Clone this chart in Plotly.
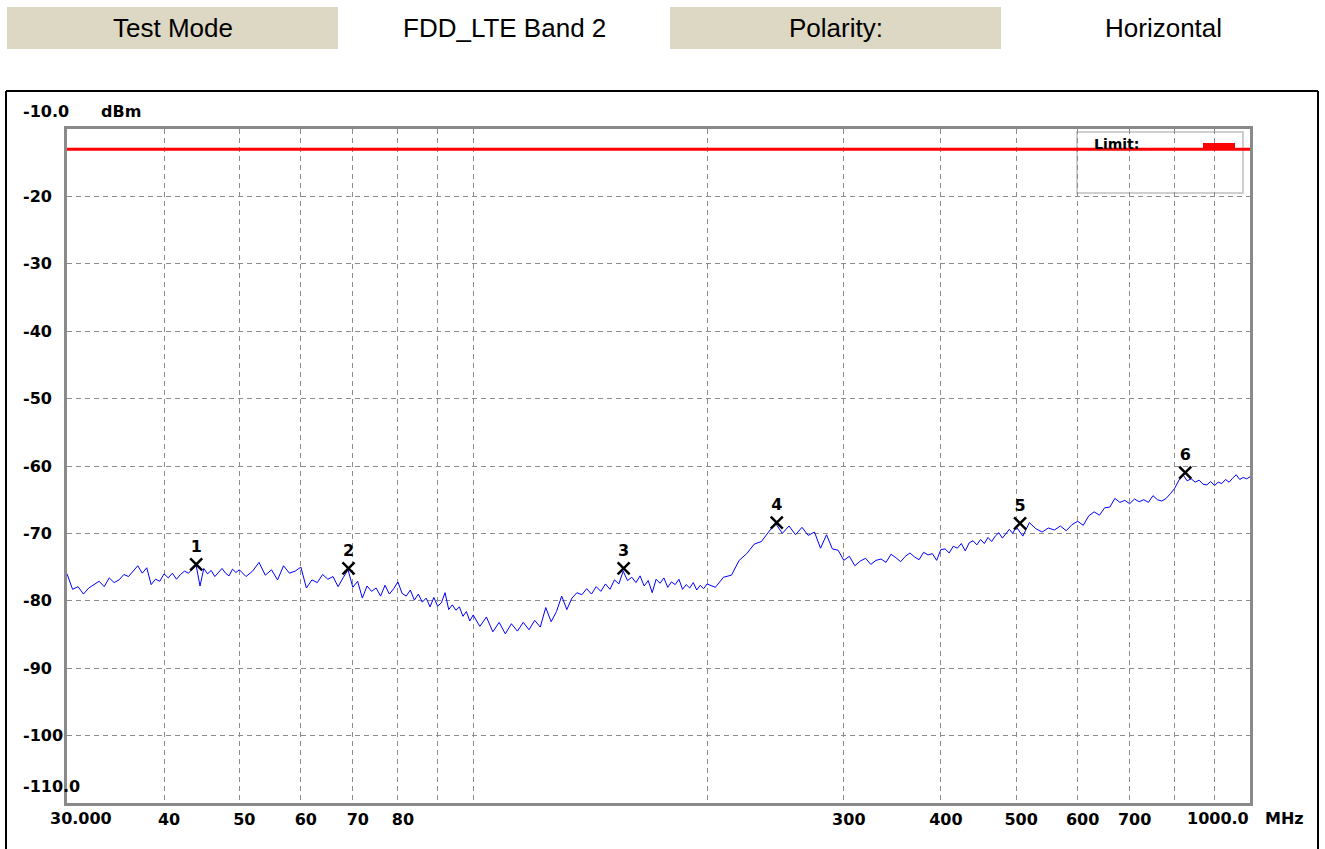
import plotly.graph_objects as go
import math

# ---------------- data ----------------
freq_mhz = [
    30.0, 30.5, 31.0, 31.5, 32.0, 32.5, 33.0, 33.5, 34.0, 34.5, 35.0, 35.5, 36.0, 36.5, 37.0, 37.5,
    38.0, 38.5, 39.0, 39.5, 40.0, 40.5, 41.0, 41.5, 42.0, 42.5, 43.0, 43.5, 44.0, 44.5, 45.0, 45.5,
    46.0, 46.5, 47.0, 47.5, 48.0, 48.5, 49.0, 49.5, 50.0,
    51, 52, 53, 54, 55, 56, 57, 58, 59, 60, 61, 62, 63, 64, 65, 66, 67, 68, 69, 70,
    71, 72, 73, 74, 75, 76, 77, 78, 79, 80, 81, 82, 83, 84, 85, 86, 87, 88, 89, 90,
    91, 92, 93, 94, 95, 96, 97, 98, 99, 100,
    102, 104, 106, 108, 110, 112, 114, 116, 118, 120, 122, 124, 126, 128, 130, 132, 134, 136, 138, 140,
    142, 144, 146, 148, 150, 152, 154, 156, 158, 160, 162, 164, 166, 168, 170, 172, 174, 176, 178, 180,
    182, 184, 186, 188, 190, 192, 194, 196, 198, 200,
    205, 210, 215, 220, 225, 230, 235, 240, 245, 250, 255, 260, 265, 270, 275, 280, 285, 290, 295, 300,
    305, 310, 315, 320, 325, 330, 335, 340, 345, 350, 355, 360, 365, 370, 375, 380, 385, 390, 395, 400,
    405, 410, 415, 420, 425, 430, 435, 440, 445, 450, 455, 460, 465, 470, 475, 480, 485, 490, 495, 500,
    510, 520, 530, 540, 550, 560, 570, 580, 590, 600, 610, 620, 630, 640, 650, 660, 670, 680, 690, 700,
    710, 720, 730, 740, 750, 760, 770, 780, 790, 800, 810, 820, 830, 840, 850, 860, 870, 880, 890, 900,
    910, 920, 930, 940, 950, 960, 970, 980, 990, 1000,
]
level_dbm = [
    -76.0, -78.3, -77.9, -79.0, -78.1, -77.6, -77.1, -77.9, -76.6, -77.3, -76.9, -76.1, -76.4, -75.6, -74.8, -75.9,
    -75.1, -77.6, -76.8, -77.1, -76.0, -76.6, -75.9, -76.8, -76.1, -75.6, -75.9, -75.3, -74.8, -77.8, -75.2, -76.0,
    -75.5, -76.4, -75.8, -75.2, -75.9, -76.3, -75.3, -75.8, -75.4,
    -76.4, -75.6, -74.3, -76.2, -75.4, -76.9, -74.8, -75.9, -75.6, -75.0, -78.1, -76.9, -77.3, -76.1, -76.8, -76.4, -77.9, -76.6, -75.4, -78.0,
    -77.1, -79.6, -77.8, -78.6, -78.1, -79.3, -77.7, -79.0, -78.2, -77.2, -78.9, -79.3, -78.4, -79.9, -79.0, -80.2, -79.6, -80.9, -79.5, -80.8,
    -80.3, -78.8, -81.3, -80.6, -81.4, -80.9, -82.3, -81.6, -83.0, -82.1,
    -83.8, -82.4, -84.6, -83.2, -84.9, -83.4, -84.5, -83.2, -84.3, -82.9, -83.9, -81.0, -83.1, -81.6, -79.3, -81.3, -79.6, -78.8, -79.1, -78.2,
    -79.0, -77.9, -78.6, -77.5, -78.3, -76.9, -77.5, -75.6, -77.0, -76.5, -77.3, -76.3, -77.8, -77.0, -78.8, -76.8, -77.4, -76.6, -78.0, -77.2,
    -77.6, -76.8, -78.3, -77.6, -78.1, -77.3, -78.4, -77.7, -78.2, -77.5,
    -78.0, -76.5, -76.2, -74.0, -73.0, -71.6, -71.2, -69.8, -68.5, -70.0, -68.9, -70.2, -69.1, -70.3, -69.8, -72.2, -70.2, -72.3, -72.5, -74.0,
    -73.4, -74.8, -74.1, -73.7, -74.6, -74.0, -73.8, -74.3, -73.1, -73.6, -74.2, -73.4, -72.9, -73.5, -73.9, -72.8, -73.2, -73.0, -74.0, -72.4,
    -72.3, -72.9, -71.9, -72.2, -71.5, -72.6, -71.4, -71.1, -71.7, -70.9, -71.5, -70.6, -71.2, -70.4, -69.9, -70.7, -70.1, -69.4, -70.0, -69.0,
    -70.4, -68.4, -69.3, -69.8, -69.2, -69.5, -68.9, -69.6, -68.7, -68.2, -68.8, -67.4, -66.8, -67.3, -66.2, -66.1, -64.8, -65.4, -65.1, -65.6,
    -64.9, -65.3, -65.0, -65.4, -64.4, -65.0, -65.2, -64.8, -64.1, -63.3, -62.1, -61.3, -62.2, -61.9, -62.4, -62.1, -62.7, -62.8, -62.3, -62.9,
    -62.4, -62.6, -62.0, -62.4, -61.8, -61.3, -62.0, -61.7, -61.9, -61.6,
]
marker_freq = [44.0, 69.1, 156.2, 245.9, 505.8, 825.3]
marker_level = [-74.6, -75.2, -75.2, -68.4, -68.5, -61.0]
marker_label = ["1", "2", "3", "4", "5", "6"]
limit_dbm = -13.0
x_range_mhz = [30, 1000]
y_range_dbm = [-110, -10]
x_grid_vals = [40, 50, 60, 70, 80, 90, 100, 200, 300, 400, 500, 600, 700, 800, 900]
x_tick_text = ["40", "50", "60", "70", "80", "", "", "", "300", "400", "500", "600", "700", "", ""]
y_grid_vals = [-20, -30, -40, -50, -60, -70, -80, -90, -100]
header_cells = ["Test Mode", "FDD_LTE Band 2", "Polarity:", "Horizontal"]

# ---------------- layout helpers ----------------
W, H = 1325, 849
PL, PR, PT, PB = 67, 1250, 129, 803          # plot area in page pixels
ML, MR, MT, MB = PL, W - PR, PT, H - PB
PW, PH = PR - PL, PB - PT


def px(x):
    return (x - PL) / PW


def py(y):
    return (PB - y) / PH


AX_FONT = dict(family="DejaVu Sans", size=16, color="black", weight="bold")
GRID = "#8c8c8c"
FRAME = "#8a8a8a"

fig = go.Figure()

fig.add_trace(go.Scatter(
    x=freq_mhz, y=level_dbm, mode="lines",
    line=dict(color="#0000ff", width=1), showlegend=False, hoverinfo="x+y"))

fig.add_trace(go.Scatter(
    x=x_range_mhz, y=[limit_dbm, limit_dbm], mode="lines",
    line=dict(color="#ff0000", width=3), showlegend=False))

fig.add_trace(go.Scatter(
    x=marker_freq, y=marker_level, mode="markers+text",
    marker=dict(symbol="x-thin", size=12, line=dict(color="black", width=2.5), color="black"),
    text=marker_label, textposition="top center",
    textfont=dict(family="DejaVu Sans", size=16, color="black", weight="bold"),
    showlegend=False))

shapes = []
annotations = []

# header cells
cell_edges = [7, 338, 670, 1001, 1325]
for i, txt in enumerate(header_cells):
    x0, x1 = cell_edges[i], cell_edges[i + 1]
    if i % 2 == 0:
        shapes.append(dict(type="rect", xref="paper", yref="paper",
                           x0=px(x0), x1=px(x1), y0=py(49), y1=py(7),
                           fillcolor="#ddd8c3", line=dict(width=0), layer="below"))
    annotations.append(dict(xref="paper", yref="paper", x=px((x0 + x1) / 2), y=py(28),
                            text=txt, showarrow=False, xanchor="center", yanchor="middle",
                            font=dict(family="Liberation Sans, Arial", size=26, color="black")))

# outer black frame (drawn as separate lines)
for (xa, ya, xb, yb) in [(6, 91, 1318, 91), (6, 91, 6, 860), (1318, 91, 1318, 860)]:
    shapes.append(dict(type="line", xref="paper", yref="paper",
                       x0=px(xa), y0=py(ya), x1=px(xb), y1=py(yb),
                       line=dict(color="black", width=2)))

# legend box
shapes.append(dict(type="rect", xref="paper", yref="paper",
                   x0=px(1077), x1=px(1243), y0=py(193), y1=py(132),
                   line=dict(color="#cfcfcf", width=2), fillcolor="white", layer="below"))
shapes.append(dict(type="rect", xref="paper", yref="paper",
                   x0=px(1203), x1=px(1235), y0=py(148), y1=py(143),
                   line=dict(width=0), fillcolor="#ff0000"))
annotations.append(dict(xref="paper", yref="paper", x=px(1092), y=py(144),
                        text="Limit:", showarrow=False, xanchor="left", yanchor="middle",
                        font=dict(family="DejaVu Sans", size=14, color="black", weight="bold")))

# y labels (left aligned as in original)
for v in y_grid_vals:
    annotations.append(dict(xref="paper", yref="y", x=px(21), y=v, text=str(v),
                            showarrow=False, xanchor="left", yanchor="middle", font=AX_FONT))
annotations.append(dict(xref="paper", yref="y", x=px(21), y=y_range_dbm[1], yshift=18,
                        text="%.1f" % y_range_dbm[1], showarrow=False,
                        xanchor="left", yanchor="middle", font=AX_FONT))
annotations.append(dict(xref="paper", yref="y", x=px(99), y=y_range_dbm[1], yshift=18,
                        text="dBm", showarrow=False, xanchor="left", yanchor="middle", font=AX_FONT))
annotations.append(dict(xref="paper", yref="y", x=px(21), y=y_range_dbm[0], yshift=17,
                        text="%.1f" % y_range_dbm[0], showarrow=False,
                        xanchor="left", yanchor="middle", font=AX_FONT))

# x end labels
annotations.append(dict(xref="x", yref="paper", x=math.log10(x_range_mhz[0]), y=0, yshift=-15,
                        xshift=-19, text="%.3f" % x_range_mhz[0], showarrow=False,
                        xanchor="left", yanchor="middle", font=AX_FONT))
annotations.append(dict(xref="x", yref="paper", x=math.log10(x_range_mhz[1]), y=0, yshift=-15,
                        xshift=1, text="%.1f" % x_range_mhz[1], showarrow=False,
                        xanchor="right", yanchor="middle", font=AX_FONT))
annotations.append(dict(xref="x", yref="paper", x=math.log10(x_range_mhz[1]), y=0, yshift=-15,
                        xshift=13, text="MHz", showarrow=False,
                        xanchor="left", yanchor="middle", font=AX_FONT))

fig.update_layout(
    width=W, height=H,
    margin=dict(l=ML, r=MR, t=MT, b=MB, pad=0),
    paper_bgcolor="white", plot_bgcolor="white",
    shapes=shapes, annotations=annotations,
    showlegend=False,
)
fig.update_xaxes(
    type="log", range=[math.log10(x_range_mhz[0]), math.log10(x_range_mhz[1])],
    tickmode="array", tickvals=x_grid_vals, ticktext=x_tick_text,
    showgrid=True, gridcolor=GRID, gridwidth=1, griddash="5px,4px",
    showline=True, linecolor=FRAME, linewidth=3, mirror=True,
    ticks="", tickfont=AX_FONT, ticklabelshift=5, ticklabelstandoff=0,
    zeroline=False,
)
fig.update_yaxes(
    range=y_range_dbm, tickmode="array", tickvals=y_grid_vals,
    showticklabels=False,
    showgrid=True, gridcolor=GRID, gridwidth=1, griddash="5px,4px",
    showline=True, linecolor=FRAME, linewidth=3, mirror=True,
    ticks="", zeroline=False,
)

# remove the default 8px page margin so the figure fills the window exactly
fig.write_html("out.html",
               config={"displayModeBar": False},
               post_script="document.body.style.margin='0';document.body.style.overflow='hidden';")
